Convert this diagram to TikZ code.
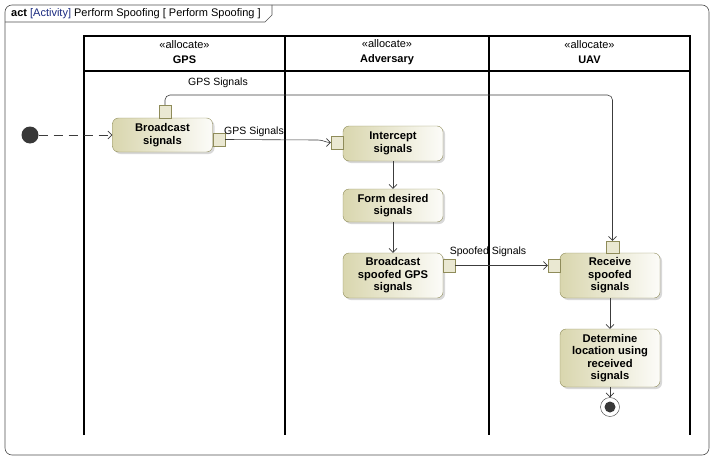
\documentclass[tikz,border=0pt]{standalone}
\usepackage{fontspec}
\setmainfont{Liberation Sans}
\usetikzlibrary{arrows.meta,shadows}
\definecolor{actfill}{HTML}{D9D6AE}
\definecolor{actline}{HTML}{8F8C5A}
\definecolor{flowline}{HTML}{3C3C3C}
\definecolor{framecol}{HTML}{505050}
\definecolor{kindcol}{HTML}{1A2A80}
\tikzset{
  action/.style={draw=actline, rounded corners=6pt, left color=actfill, right color=actfill!8,
    minimum width=100pt, inner sep=2pt, align=center,
    font=\bfseries\fontsize{11.2}{12.5}\selectfont,
    drop shadow={shadow xshift=2pt,shadow yshift=-2pt,fill=black!30}},
  pinbox/.style={draw=actline, fill=actfill!55, minimum width=12pt, minimum height=13pt, inner sep=0pt},
  flow/.style={draw=flowline, semithick, -{Straight Barb[length=4pt,width=8pt]}},
  lane/.style={line width=2pt},
  flowlabel/.style={font=\fontsize{10.5}{12}\selectfont, inner sep=1pt},
  lanehead/.style={align=center, font=\fontsize{11}{15}\selectfont}
}
\begin{document}
\begin{tikzpicture}[x=1pt,y=-1pt]
 \useasboundingbox (0,0) rectangle (714,460);

 % Frame with title tab
 \draw[framecol, semithick, rounded corners=7pt] (5,5) rectangle (709,455);
 \draw[framecol, semithick] (5,22) -- (265,22) -- (272,15) -- (272,5);
 \node[anchor=west, font=\fontsize{11}{12}\selectfont, inner sep=0pt] (title) at (11,14)
   {\textbf{act} \textcolor{kindcol}{[Activity]} Perform Spoofing [ Perform Spoofing ]};

 % Swimlanes (open at the bottom)
 \draw[lane] (84,435) -- (84,36) -- (690,36) -- (690,435);
 \draw[lane] (84,71) -- (690,71);
 \draw[lane] (285,36) -- (285,435);
 \draw[lane] (489,36) -- (489,435);
 \node[lanehead] (gps) at (184.5,52) {«allocate»\\\textbf{GPS}};
 \node[lanehead] (adv) at (387,52) {«allocate»\\\textbf{Adversary}};
 \node[lanehead] (uav) at (589.5,52) {«allocate»\\\textbf{UAV}};

 % Actions
 \node[circle, fill=black!78, minimum size=17pt, inner sep=0pt] (init) at (30,135) {};
 \node[action, minimum height=34pt] (bcast) at (162.5,135) {Broadcast\\signals};
 \node[action, minimum height=35pt] (icpt) at (393,143.5) {Intercept\\signals};
 \node[action, minimum height=33pt] (form) at (393,205.5) {Form desired\\signals};
 \node[action, minimum height=45pt] (spoof) at (393,275.5) {Broadcast\\spoofed GPS\\signals};
 \node[action, minimum height=45pt] (recv) at (610,275.5) {Receive\\spoofed\\signals};
 \node[action, minimum height=58pt] (det) at (610,358) {Determine\\location using\\received\\signals};
 \node[circle, draw=flowline, fill=white, minimum size=19pt, inner sep=0pt] (fin) at (610,407) {};
 \node[circle, fill=black!78, minimum size=11pt, inner sep=0pt] (fincore) at (fin) {};

 % Pins
 \node[pinbox, minimum height=13pt] (bcasttop) at (165,111.5) {};
 \node[pinbox] (bcastout) at (219,139.5) {};
 \node[pinbox] (icptin) at (337,142.5) {};
 \node[pinbox] (spoofout) at (449,265.5) {};
 \node[pinbox] (recvin) at (554,265.5) {};
 \node[pinbox, minimum width=13pt, minimum height=12pt] (recvtop) at (612.5,247) {};

 % Flows
 \draw[flow, dash pattern=on 9pt off 6pt] (init) -- (bcast.west);
 \draw[flow, rounded corners=5pt] (bcasttop.north) |- (612.5,95) -- (recvtop.north);
 \node[flowlabel] (lbltop) at (218,83) {GPS Signals};
 \draw[flow] (bcastout.east) -- (318,140) to[out=0,in=180] (icptin.west);
 \node[flowlabel] (lblmid) at (254,131.5) {GPS Signals};
 \draw[flow] (icpt.south) -- (form.north);
 \draw[flow] (form.south) -- (spoof.north);
 \draw[flow] (spoofout.east) -- (recvin.west);
 \node[flowlabel] (lblspoof) at (488,251.5) {Spoofed Signals};
 \draw[flow] (recv.south) -- (det.north);
 \draw[flow] (det.south) -- (fin.north);

\end{tikzpicture}
\end{document}
